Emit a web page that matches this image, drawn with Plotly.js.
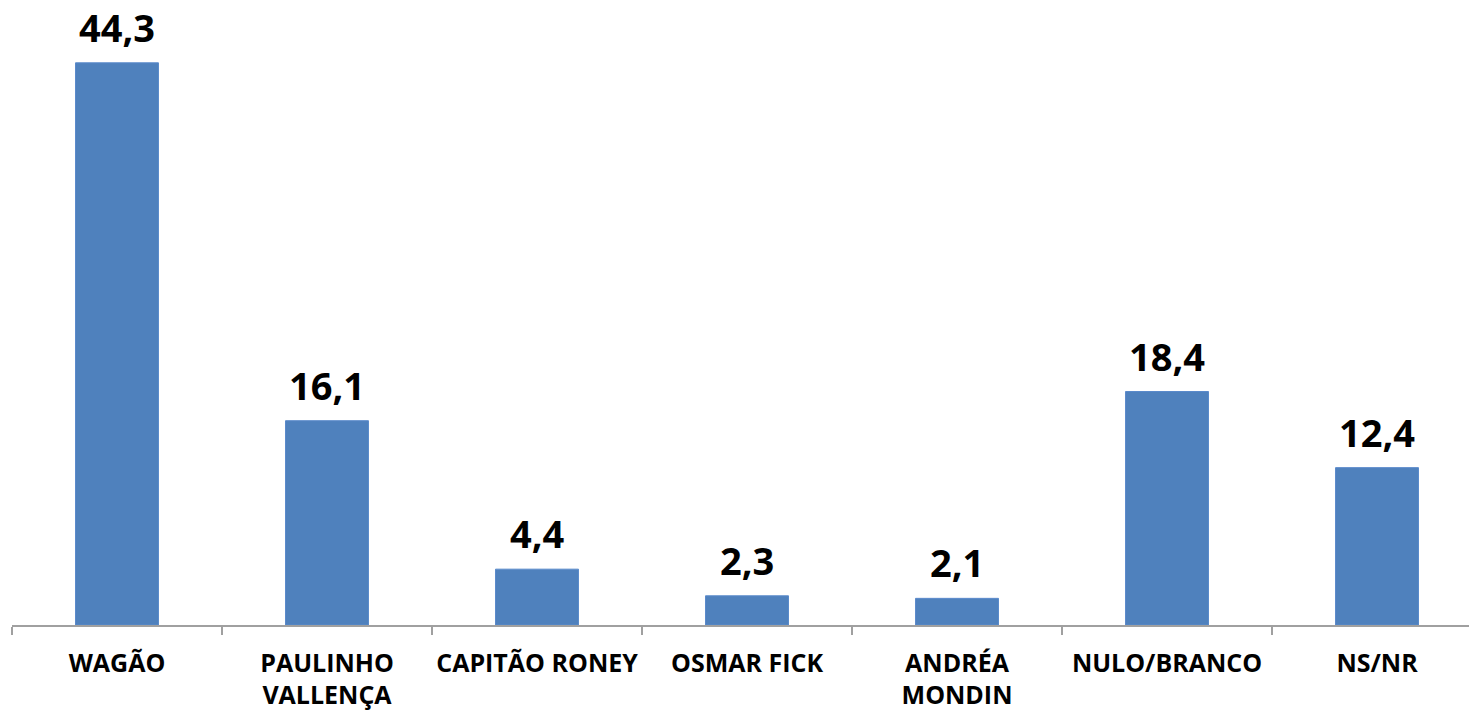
<!DOCTYPE html>
<html>
<head>
<meta charset="utf-8">
<script src="https://cdn.plot.ly/plotly-3.0.1.min.js"></script>
<style>html,body{margin:0;padding:0;background:#fff;}#chart{width:1469px;height:710px;}</style>
</head>
<body>
<div id="chart"></div>
<script>
const categories = ["WAGÃO", "PAULINHO<br>VALLENÇA", "CAPITÃO RONEY", "OSMAR FICK", "ANDRÉA<br>MONDIN", "NULO/BRANCO", "NS/NR"];
const values = [44.3, 16.1, 4.4, 2.3, 2.1, 18.4, 12.4];
const valueLabels = ["44,3", "16,1", "4,4", "2,3", "2,1", "18,4", "12,4"];

const font = "Open Sans, Liberation Sans, sans-serif";

const trace = {
  type: "bar",
  x: categories,
  y: values,
  width: 0.395,
  marker: {color: "#4F81BD", line: {color: "#5A8ACB", width: 1}},
  hoverinfo: "skip"
};

const annotations = categories.map((c, i) => ({
  x: c, y: values[i], xref: "x", yref: "y",
  text: valueLabels[i], showarrow: false,
  yanchor: "bottom", yshift: 8,
  font: {family: font, size: 38, color: "#000", weight: 700}
}));

const layout = {
  width: 1469, height: 710,
  margin: {l: 12, r: 0, t: 0, b: 85},
  paper_bgcolor: "#fff", plot_bgcolor: "#fff",
  showlegend: false,
  xaxis: {
    type: "category",
    range: [-0.5, 6.438],
    showline: true, linecolor: "#A0A0A0", linewidth: 1.5,
    ticks: "outside", tickson: "boundaries", ticklen: 8, tickcolor: "#A0A0A0", tickwidth: 1.5,
    showgrid: false, zeroline: false,
    tickangle: 0, automargin: false,
    tickfont: {family: font, size: 25, color: "#000", weight: 700},
    ticklabelstandoff: 15,
    fixedrange: true
  },
  yaxis: {
    range: [0, 49.25], visible: false, showgrid: false, zeroline: false, fixedrange: true
  },
  annotations: annotations
};

Plotly.newPlot("chart", [trace], layout, {displayModeBar: false, staticPlot: true});
</script>
</body>
</html>
